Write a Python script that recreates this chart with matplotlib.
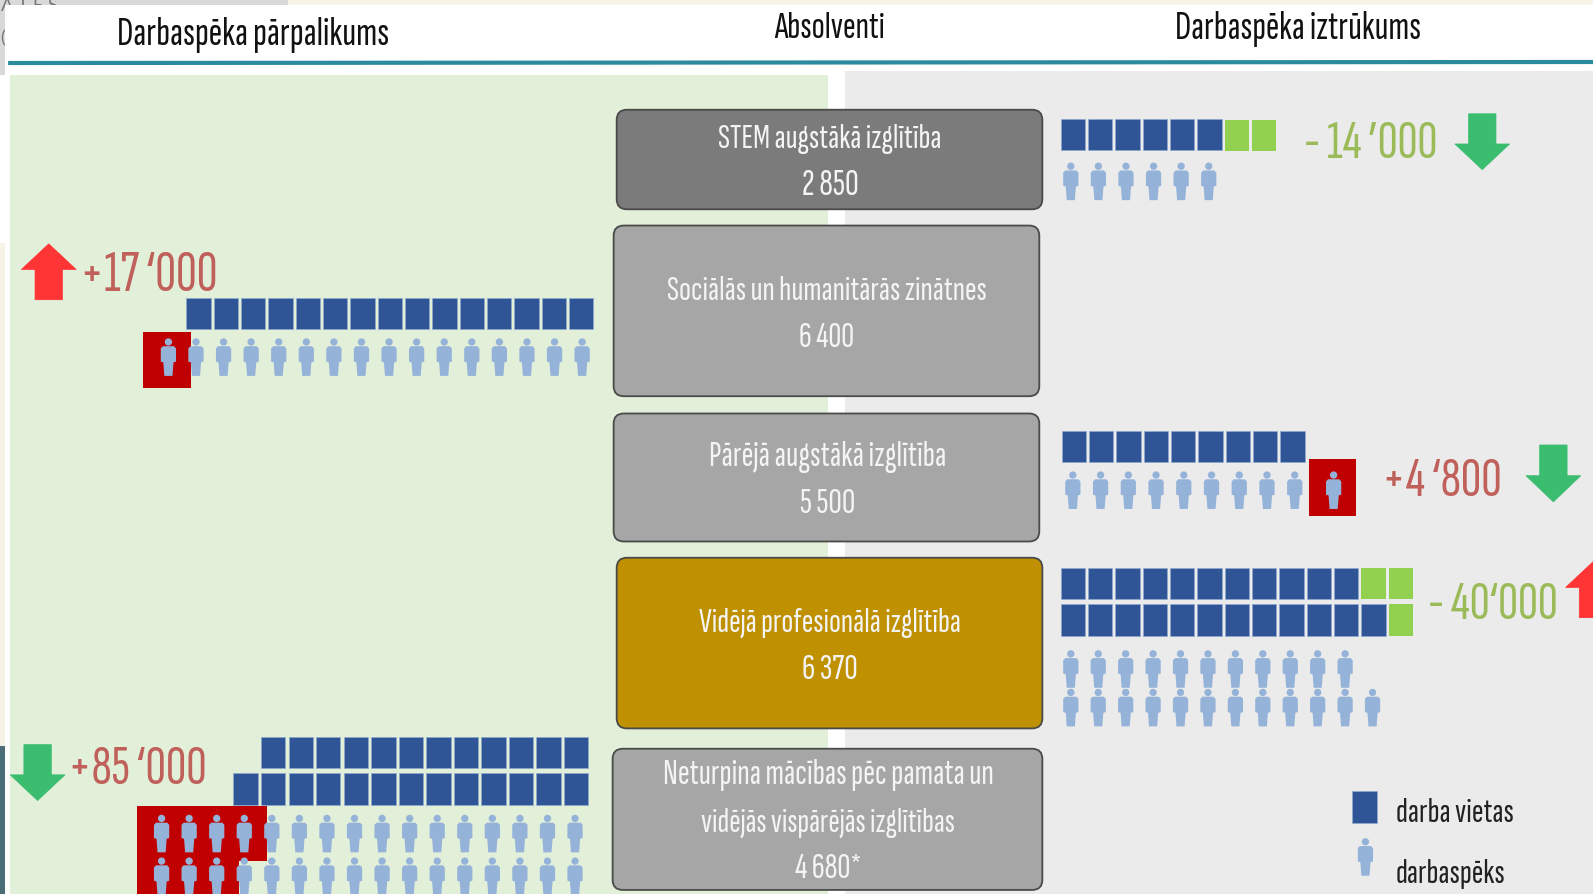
import matplotlib
matplotlib.use("Agg")
import matplotlib.pyplot as plt
from matplotlib import font_manager as fm
from matplotlib.patches import Rectangle, Circle, Polygon, FancyBboxPatch

# ---------- data ----------
headers = ["Darbaspēka pārpalikums", "Absolventi", "Darbaspēka iztrūkums"]
box_labels = [
    ["STEM augstākā izglītība", "2 850"],
    ["Sociālās un humanitārās zinātnes", "6 400"],
    ["Pārējā augstākā izglītība", "5 500"],
    ["Vidējā profesionālā izglītība", "6 370"],
    ["Neturpina mācības pēc pamata un", "vidējās vispārējās izglītības", "4 680*"],
]
gaps = ["- 14 ’000", "+17 ‘000", "+4 ‘800", "- 40‘000", "+85 ‘000"]
stem_jobs_blue, stem_jobs_green, stem_workers = 6, 2, 6
soc_jobs, soc_workers, soc_workers_red = 15, 16, 1
other_jobs, other_workers, other_workers_red = 9, 10, 1
voc_jobs_blue = [11, 12]
voc_jobs_green = [2, 1]
voc_workers = [11, 12]
basic_jobs = [12, 13]
basic_workers = [16, 16]
basic_workers_red = [4, 3]
legend_labels = ["darba vietas", "darbaspēks"]

# ---------- style ----------
BLUE, LGREEN, PERSON, RED = "#2f5597", "#92d050", "#95b3d9", "#c00000"
ARROW_RED, ARROW_GREEN = "#ff3535", "#3bbd70"
TXT_RED, TXT_GREEN = "#c0605a", "#9bbb59"
names = {f.name for f in fm.fontManager.ttflist}
FONT = next((n for n in ["Sofia Sans Extra Condensed", "Saira Extra Condensed", "Fira Sans Extra Condensed",
                         "Barlow Condensed", "Archivo Narrow", "Liberation Sans"] if n in names), "DejaVu Sans")

fig = plt.figure(figsize=(15.93, 8.95), dpi=100, facecolor="white")
ax = fig.add_axes([0, 0, 1, 1])
ax.set_xlim(0, 1568)
ax.set_ylim(881, 0)
ax.axis("off")
renderer = fig.canvas.get_renderer()


def rect(x0, y0, x1, y1, color, z=1):
    ax.add_patch(Rectangle((x0, y0), x1 - x0, y1 - y0, facecolor=color, edgecolor="none", linewidth=0, zorder=z))


def fit(s, x0, x1, yc, color, z=6):
    t = ax.text((x0 + x1) / 2, yc, s, ha="center", va="center", color=color, family=FONT, fontsize=20, zorder=z)
    w = t.get_window_extent(renderer).width * 1568 / 1593
    t.set_fontsize(20 * (x1 - x0) / w)
    return t


def person(cx, top, h=37, z=4):
    w = 15.0
    ax.add_patch(Circle((cx, top + 3.6), 3.6, facecolor=PERSON, edgecolor="none", zorder=z))
    ax.add_patch(Polygon([(cx - w / 2, top + h * .27), (cx - w / 2 + 2, top + h * .21), (cx + w / 2 - 2, top + h * .21),
                          (cx + w / 2, top + h * .27), (cx + w / 2, top + h * .62), (cx + 5, top + h * .64),
                          (cx + 4, top + h), (cx - 4, top + h), (cx - 5, top + h * .64),
                          (cx - w / 2, top + h * .62)], closed=True, facecolor=PERSON, edgecolor="none", zorder=z))


def square(x, top, color, w=24, h=31, z=3):
    ax.add_patch(Rectangle((x, top), w, h, facecolor=color,
                           edgecolor="#8fa9d0" if color == BLUE else "none", linewidth=0.5, zorder=z))


def arrow(cx, y0, y1, color, up, w=54):
    head = (y1 - y0) * 0.46
    s = w * 0.25
    if up:
        pts = [(cx, y0), (cx + w / 2, y0 + head), (cx + s, y0 + head), (cx + s, y1), (cx - s, y1), (cx - s, y0 + head),
               (cx - w / 2, y0 + head)]
    else:
        pts = [(cx, y1), (cx + w / 2, y1 - head), (cx + s, y1 - head), (cx + s, y0), (cx - s, y0), (cx - s, y1 - head),
               (cx - w / 2, y1 - head)]
    ax.add_patch(Polygon(pts, closed=True, facecolor=color, edgecolor=color, linewidth=0.5, zorder=4))


def gbox(x0, y0, x1, y1, color):
    ax.add_patch(FancyBboxPatch((x0 + 10, y0 + 10), x1 - x0 - 20, y1 - y0 - 20, boxstyle="round,pad=10,rounding_size=10",
                                facecolor=color, edgecolor="#4a4a4a", linewidth=1.3, zorder=5))


# ---------- background ----------
rect(0, 0, 283, 6, "#d9d9d9")
rect(283, 0, 1568, 6, "#f7f5ea")
rect(0, 0, 5, 75, "#d9d9d9")
rect(0, 240, 5, 735, "#f5f2e6")
rect(0, 735, 5, 881, "#4a6d78")
ax.text(1, 6, "A T E S", fontsize=13, color="#777777", family="Lato", va="center", zorder=1.2, clip_on=True)
ax.text(0, 38, "(", fontsize=13, color="#777777", family="Lato", va="center", zorder=1.2, clip_on=True)
rect(5, 6, 1568, 62, "white", z=1.5)
rect(10, 75, 815, 881, "#e2efd9")
rect(832, 71, 1568, 881, "#ebebeb")
ax.plot([8, 1568], [63, 62], color="#2b8a9c", lw=3, zorder=3, solid_capstyle="butt")

# ---------- headers ----------
for s, (a, b), y in zip(headers, [(115, 383), (762, 871), (1157, 1399)], [34, 28, 29]):
    fit(s, a, b, y, "#111111")

# ---------- central boxes ----------
box_geom = [(607, 109, 1026, 207), (604, 223, 1023, 391), (604, 408, 1023, 534), (607, 550, 1026, 718), (603, 738, 1026, 877)]
box_cols = ["#7b7b7b", "#a6a6a6", "#a6a6a6", "#bf9000", "#a6a6a6"]
box_spans = [[(707, 927), (789, 845)], [(657, 971), (786, 841)], [(698, 931), (787, 842)], [(688, 945), (789, 844)],
             [(652, 978), (690, 940), (782, 848)]]
box_ys = [[137, 183], [286, 333], [450, 496], [613, 660], [763, 810, 855]]
for g, c, labs, spans, ys in zip(box_geom, box_cols, box_labels, box_spans, box_ys):
    gbox(*g, c)
    for s, (a, b), y in zip(labs, spans, ys):
        fit(s, a, b, y, "#f4f4f4")

PX, PW = 26.9, 27.15

# ---------- STEM ----------
for i in range(stem_jobs_blue + stem_jobs_green):
    blue = i < stem_jobs_blue
    square(1044 + i * PX, 118 if blue else 119, BLUE if blue else LGREEN)
for i in range(stem_workers):
    person(1054 + i * PW, 161)
fit(gaps[0], 1283, 1415, 142, TXT_GREEN)
arrow(1459, 113, 168, ARROW_GREEN, False)

# ---------- Social ----------
rect(141, 328, 188, 383, RED, z=3)
for i in range(soc_jobs):
    square(584 - 24 - i * PX, 294, BLUE)
for i in range(soc_workers):
    person(573 - i * PW, 334)
fit(gaps[1], 78, 214, 272, TXT_RED)
arrow(48, 241, 296, ARROW_RED, True)

# ---------- Other higher ----------
for i in range(other_jobs):
    square(1045 + i * PX, 425, BLUE)
rect(1288, 453, 1335, 509, RED, z=3)
for i in range(other_workers):
    extra = 11 if i >= other_workers - other_workers_red else 0
    person(1056 + i * 27.3 + extra, 465)
fit(gaps[2], 1360, 1478, 474, TXT_RED)
arrow(1529, 439, 495, ARROW_GREEN, False)

# ---------- Vocational ----------
for r, (top, nb, ng) in enumerate(zip([560, 596], voc_jobs_blue, voc_jobs_green)):
    for i in range(nb + ng):
        square(1044 + i * PX, top, BLUE if i < nb else LGREEN)
for top, n in zip([641, 679], voc_workers):
    for i in range(n):
        person(1054 + i * 27.0, top)
fit(gaps[3], 1405, 1534, 596, TXT_GREEN)
arrow(1568, 554, 609, ARROW_RED, True)

# ---------- Basic ----------
for top, n in zip([726, 762], basic_jobs):
    for i in range(n):
        square(579 - 24 - i * 27.1, top, BLUE)
for top, n, nr, y0, bottom in zip([803, 845], basic_workers, basic_workers_red, [794, 849], [849, 881]):
    xs = [566 - i * 27.13 for i in range(n)]
    rect(135, y0, min(xs) + (nr - 1) * 27.13 + 22, bottom, RED, z=3.5)
    for x in xs:
        person(x, top, z=4)
fit(gaps[4], 67, 204, 758, TXT_RED)
arrow(37, 734, 789, ARROW_GREEN, False)

# ---------- legend ----------
square(1331, 780, BLUE)
person(1344, 826)
fit(legend_labels[0], 1374, 1490, 800, "#222222")
fit(legend_labels[1], 1374, 1482, 860, "#222222")

fig.savefig("out.png", dpi=100, facecolor="white")
